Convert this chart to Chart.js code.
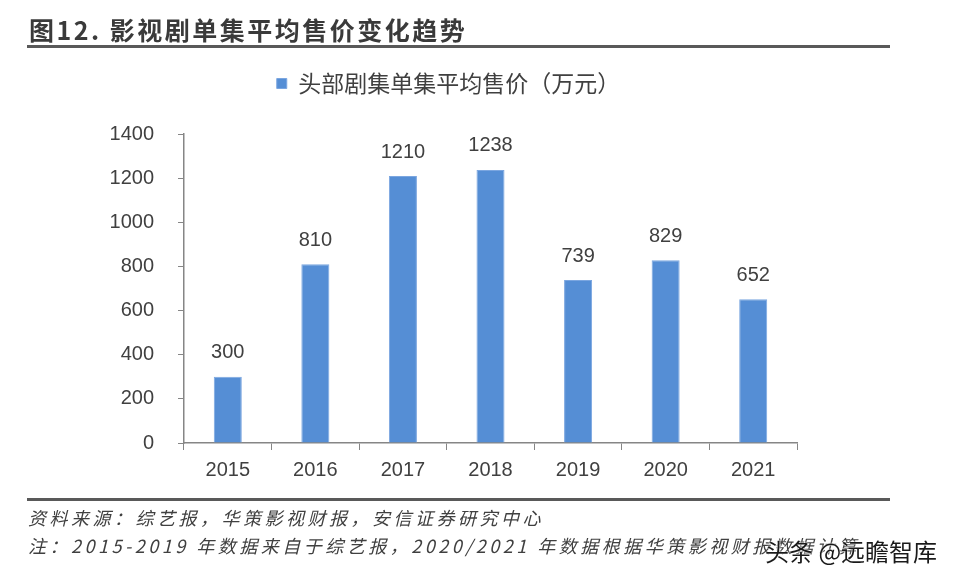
<!DOCTYPE html>
<html>
<head>
<meta charset="utf-8">
<script src="https://cdn.jsdelivr.net/npm/chart.js@4/dist/chart.umd.min.js"></script>
<style>
  body { margin: 0; background: #ffffff; }
  #pagina { position: relative; width: 960px; height: 579px; overflow: hidden; background: #fff; }
  #grafico { position: absolute; left: 0; top: 0; }
  .titulo { position: absolute; left: 29px; top: 11px; font: bold 25px "Noto Sans CJK SC"; color: #3a3a3a; letter-spacing: 2.5px; }
  .raya { position: absolute; left: 27px; width: 863px; height: 3px; background: #595959; }
  .nota { position: absolute; left: 28px; font: italic 18px "Noto Sans CJK SC"; color: #404040; letter-spacing: 3.5px; white-space: nowrap; }
  .marca { position: absolute; left: 765px; top: 533px; font: 24px "Noto Sans CJK SC"; color: #1a1a1a; text-shadow: 0 0 2px #fff, 0 0 2px #fff; white-space: nowrap; }
</style>
</head>
<body>
<div id="pagina">
  <canvas id="grafico" width="960" height="579"></canvas>
  <div class="titulo">图12. 影视剧单集平均售价变化趋势</div>
  <div class="raya" style="top:45px"></div>
  <div class="raya" style="top:498px"></div>
  <div class="nota" style="top:504px">资料来源：综艺报，华策影视财报，安信证券研究中心</div>
  <div class="nota" style="top:532px">注：2015-2019 年数据来自于综艺报，2020/2021 年数据根据华策影视财报数据计算</div>
  <div class="marca">头条 @远瞻智库</div>
</div>
<script>
// Datos del gráfico
const anios = ['2015', '2016', '2017', '2018', '2019', '2020', '2021'];
const precios = [300, 810, 1210, 1238, 739, 829, 652];
const nombreSerie = '头部剧集单集平均售价（万元）';
const marcasY = [0, 200, 400, 600, 800, 1000, 1200, 1400];

// Plugin para escribir el valor encima de cada barra
const etiquetasValor = {
    id: 'etiquetasValor',
    afterDatasetsDraw(chart) {
        const ctx = chart.ctx;
        ctx.save();
        ctx.font = '20px "Liberation Sans"';
        ctx.fillStyle = '#404040';
        ctx.textAlign = 'center';
        ctx.textBaseline = 'bottom';
        chart.getDatasetMeta(0).data.forEach((barra, i) => {
            ctx.fillText(String(precios[i]), barra.x, barra.y - 14);
        });
        ctx.restore();
    }
};

const ctx = document.getElementById('grafico').getContext('2d');

new Chart(ctx, {
    type: 'bar',
    data: {
        labels: anios,
        datasets: [{
            label: nombreSerie,
            data: precios,
            backgroundColor: '#558ed5',
            borderColor: '#7ba6e0',
            borderWidth: 1,
            categoryPercentage: 1,
            barPercentage: 0.32
        }]
    },
    options: {
        responsive: false,
        animation: false,
        layout: { padding: { left: 100, right: 163, top: 62, bottom: 96 } },
        plugins: {
            tooltip: { enabled: false },
            legend: {
                display: true,
                position: 'top',
                weight: 3000,
                labels: {
                    color: '#404040',
                    font: { family: '"Noto Sans CJK SC"', size: 23 },
                    boxWidth: 10,
                    boxHeight: 10,
                    padding: 10
                }
            },
            // espacio vacío entre la leyenda y el área del gráfico
            title: {
                display: true,
                text: '',
                weight: 500,
                font: { size: 1 },
                padding: { top: 0, bottom: 28 }
            }
        },
        scales: {
            x: {
                grid: { display: true, drawOnChartArea: false, offset: true, tickLength: 7, color: '#868686', tickColor: '#868686' },
                border: { display: true, color: '#868686', width: 1.5 },
                ticks: { color: '#404040', font: { family: '"Liberation Sans"', size: 20 }, padding: 8 },
                afterFit(escala) { escala.height = 40; }
            },
            y: {
                min: 0,
                max: 1400,
                afterBuildTicks(escala) { escala.ticks = marcasY.map(v => ({ value: v })); },
                grid: { display: true, drawOnChartArea: false, tickLength: 6, color: '#868686', tickColor: '#868686' },
                border: { display: true, color: '#868686', width: 1.5 },
                ticks: {
                    color: '#404040',
                    font: { family: '"Liberation Sans"', size: 20 },
                    padding: 24,
                    callback: v => String(v)
                },
                afterFit(escala) { escala.width = 84; }
            }
        }
    },
    plugins: [etiquetasValor]
});
</script>
</body>
</html>
